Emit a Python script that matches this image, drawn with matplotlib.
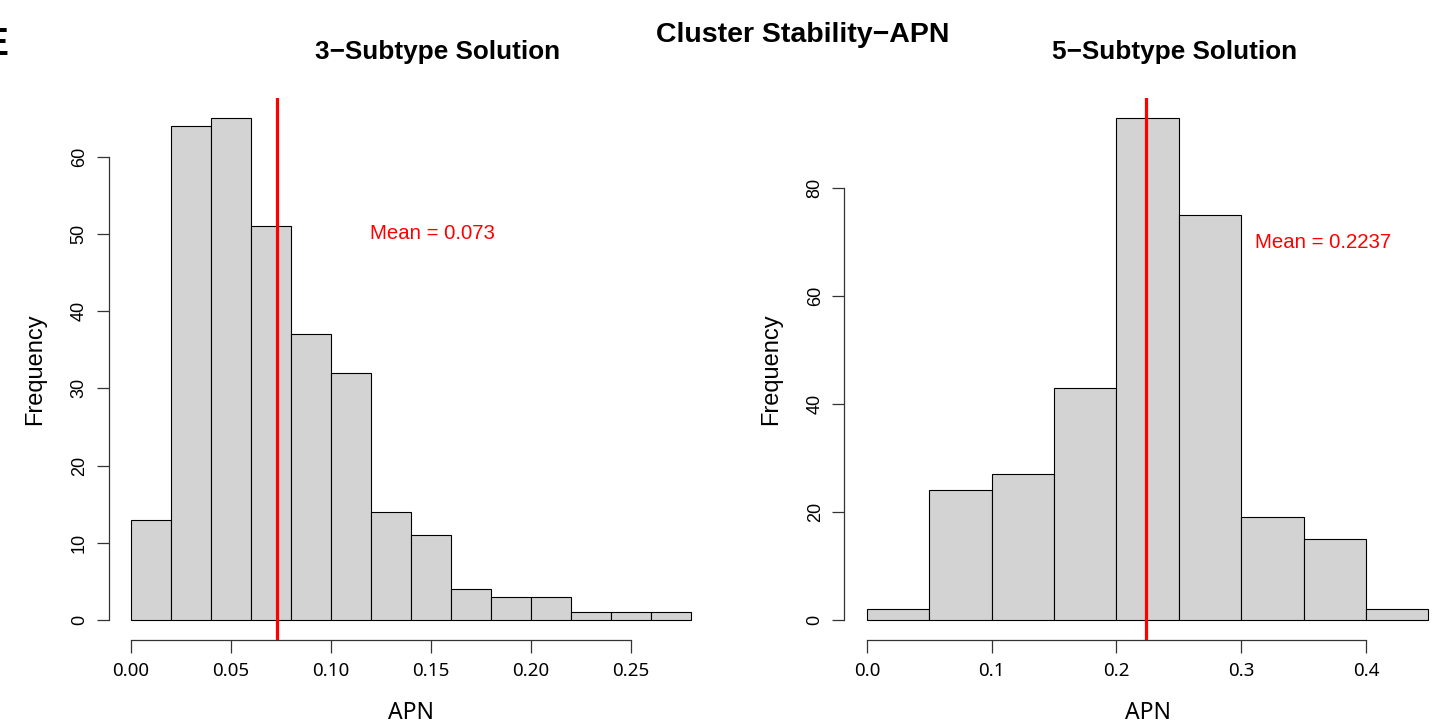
import numpy as np
import matplotlib.pyplot as plt

# APN histograms for the two subtype solutions (300 runs each)
edges3 = [0.00, 0.02, 0.04, 0.06, 0.08, 0.10, 0.12, 0.14, 0.16, 0.18, 0.20, 0.22, 0.24, 0.26, 0.28]
counts3 = [13, 64, 65, 51, 37, 32, 14, 11, 4, 3, 3, 1, 1, 1]
mean3 = 0.073

edges5 = [0.00, 0.05, 0.10, 0.15, 0.20, 0.25, 0.30, 0.35, 0.40, 0.45]
counts5 = [2, 24, 27, 43, 93, 75, 19, 15, 2]
mean5 = 0.2237

xticks3 = [0.00, 0.05, 0.10, 0.15, 0.20, 0.25]
xticklabels3 = ["0.00", "0.05", "0.10", "0.15", "0.20", "0.25"]
yticks3 = [0, 10, 20, 30, 40, 50, 60]
xticks5 = [0.0, 0.1, 0.2, 0.3, 0.4]
xticklabels5 = ["0.0", "0.1", "0.2", "0.3", "0.4"]
yticks5 = [0, 20, 40, 60, 80]

arial = "Liberation Sans"
segoe = "Noto Sans"

fig = plt.figure(figsize=(14.46, 7.25), dpi=100)
ax1 = fig.add_axes([0.0751, 0.1172, 0.418, 0.7476])
ax2 = fig.add_axes([0.5840, 0.1172, 0.4193, 0.7476])


def r_hist(ax, edges, counts, mean, xticks, xlabels, yticks, txt_xy, txt):
    edges = np.array(edges)
    ax.bar(edges[:-1], counts, width=np.diff(edges), align="edge",
           color="#d3d3d3", edgecolor="black", linewidth=0.8)
    # R style 4% padding on both axes
    xr = edges[-1] - edges[0]
    ax.set_xlim(edges[0] - 0.04 * xr, edges[-1] + 0.04 * xr)
    ym = max(counts)
    ax.set_ylim(-0.04 * ym, ym * 1.04)
    ax.axvline(mean, color="#ff0000", linewidth=2.3, zorder=5)
    ax.text(txt_xy[0], txt_xy[1], txt, color="#ff0000", fontsize=14.7,
            family=arial, ha="left", va="center")

    for s in ["top", "right"]:
        ax.spines[s].set_visible(False)
    ax.spines["left"].set_bounds(yticks[0], yticks[-1])
    ax.spines["bottom"].set_bounds(xticks[0], xticks[-1])
    for s in ["left", "bottom"]:
        ax.spines[s].set_linewidth(0.9)
        ax.spines[s].set_color("#333333")
    ax.set_xticks(xticks)
    ax.set_xticklabels(xlabels, family=segoe, fontsize=13.5)
    ax.set_yticks(yticks)
    ax.set_yticklabels([str(v) for v in yticks], family=arial, fontsize=13,
                       rotation=90, va="center")
    ax.tick_params(length=9, width=0.9, color="#333333", pad=6)
    ax.tick_params(axis="x", pad=7)
    ax.set_xlabel("APN", family=segoe, fontsize=16.5, labelpad=15)
    ax.set_ylabel("Frequency", family=arial, fontsize=17, labelpad=18)
    ax.patch.set_visible(False)


r_hist(ax1, edges3, counts3, mean3, xticks3, xticklabels3, yticks3,
       (0.1195, 50), "Mean = 0.073")
r_hist(ax2, edges5, counts5, mean5, xticks5, xticklabels5, yticks5,
       (0.311, 70), "Mean = 0.2237")

fig.text(438 / 1446, 1 - 52 / 725, "3\u2212Subtype Solution", family=arial,
         fontsize=18.8, fontweight="bold", ha="center", va="center")
fig.text(1175 / 1446, 1 - 52 / 725, "5\u2212Subtype Solution", family=arial,
         fontsize=18.8, fontweight="bold", ha="center", va="center")
fig.text(803 / 1446, 1 - 35 / 725, "Cluster Stability\u2212APN", family=arial,
         fontsize=20.5, fontweight="bold", ha="center", va="center")
fig.text(-0.012, 1 - 45 / 725, "E", family=arial, fontsize=28,
         fontweight="bold", ha="left", va="center")

fig.savefig("out.png", dpi=100)
